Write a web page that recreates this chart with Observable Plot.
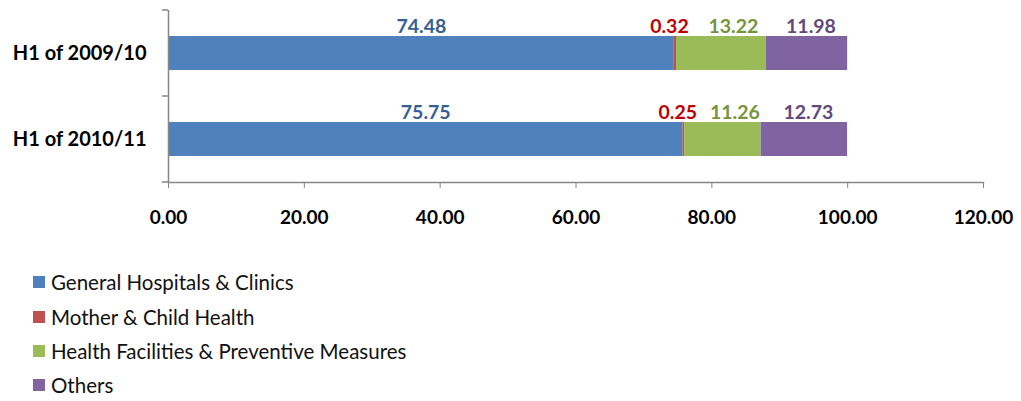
<!DOCTYPE html>
<html>
<head>
<meta charset="utf-8">
<script src="https://cdn.jsdelivr.net/npm/d3@7"></script>
<script src="https://cdn.jsdelivr.net/npm/@observablehq/plot@0.6"></script>
<style>
  body { margin: 0; background: #fff; font-family: Lato, "Open Sans", sans-serif; }
  #legend { margin: 15px 0 0 33px; }
  .li { display: flex; align-items: center; height: 34.4px; font-size: 20.5px; color: #111; }
  .sw { width: 12px; height: 12px; margin-right: 6px; }
</style>
</head>
<body>
<div id="chart"></div>
<div id="legend"></div>
<script>
const periods = ["H1 of 2009/10", "H1 of 2010/11"];
const categories = ["General Hospitals & Clinics", "Mother & Child Health", "Health Facilities & Preventive Measures", "Others"];
const values2009 = [74.48, 0.32, 13.22, 11.98];
const values2010 = [75.75, 0.25, 11.26, 12.73];
const xTicks = [0, 20, 40, 60, 80, 100, 120];
const barColors = ["#4F81BD", "#C0504D", "#9BBB59", "#8064A2"];
const labelColors = ["#376092", "#C00000", "#77933C", "#604A7B"];

const data = [];
[values2009, values2010].forEach((vals, pi) => {
  vals.forEach((v, ci) => data.push({period: periods[pi], category: categories[ci], value: v}));
});

const labelMark = (cat, dx) => Plot.text(data, Plot.stackX({
  x: "value", y: "period", z: "category", order: categories,
  text: d => d.category === cat ? d.value.toFixed(2) : "",
  fill: labelColors[categories.indexOf(cat)],
  dy: -27, dx: dx,
  fontSize: 19.5, fontWeight: "bold", fontFamily: "Lato"
}));

// y-axis ticks at band boundaries, computed from the band scale
const bandTicks = (index, scales, values, dimensions) => {
  const y = scales.y;
  const g = d3.create("svg:g");
  const top = dimensions.marginTop, bottom = dimensions.height - dimensions.marginBottom;
  const mid = (y(periods[0]) + y.bandwidth() + y(periods[1])) / 2;
  [top, mid, bottom].forEach(v => {
    g.append("line").attr("x1", dimensions.marginLeft - 6).attr("x2", dimensions.marginLeft)
      .attr("y1", v).attr("y2", v).attr("stroke", "#868686").attr("stroke-width", 1.5);
  });
  return g.node();
};

const plot = Plot.plot({
  width: 1021,
  height: 250,
  marginLeft: 168,
  marginRight: 38,
  marginTop: 10,
  marginBottom: 68,
  style: {fontFamily: "Lato", background: "#fff"},
  x: {domain: [0, 120], ticks: xTicks, label: null},
  y: {domain: periods, paddingInner: 0.6, paddingOuter: 0.3, label: null},
  color: {domain: categories, range: barColors},
  marks: [
    Plot.barX(data, Plot.stackX({x: "value", y: "period", fill: "category", order: categories, inset: 0})),
    Plot.ruleX([0], {stroke: "#868686", strokeWidth: 1.5}),
    Plot.frame({anchor: "bottom", stroke: "#868686", strokeWidth: 1.5}),
    Plot.axisX({ticks: xTicks, tickFormat: d => d.toFixed(2), tickSize: 6, tickPadding: 22, label: null,
      stroke: "#868686", fontSize: 19, fontWeight: "bold", fill: "#000"}),
    Plot.axisY({tickSize: 0, tickPadding: 22, label: null, fontSize: 20, fontWeight: "bold", fill: "#000"}),
    bandTicks,
    labelMark(categories[0], 0),
    labelMark(categories[1], -6),
    labelMark(categories[2], 12),
    labelMark(categories[3], 4)
  ]
});
document.getElementById("chart").appendChild(plot);

const legend = d3.select("#legend");
categories.forEach((c, i) => {
  const row = legend.append("div").attr("class", "li");
  row.append("div").attr("class", "sw").style("background", barColors[i]);
  row.append("span").text(c);
});
</script>
</body>
</html>
